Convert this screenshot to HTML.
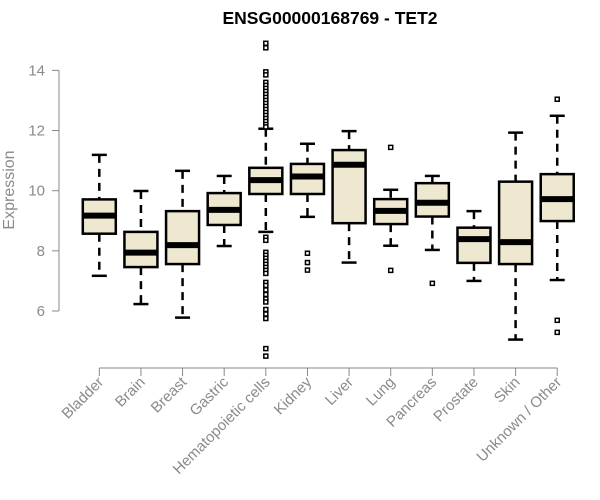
<!DOCTYPE html>
<html><head><meta charset="utf-8"><style>
body{margin:0;background:#fff;}
svg{display:block;font-family:"Liberation Sans",Arial,sans-serif;}
</style></head><body>
<svg id="chart" width="600" height="500">
<text x="330" y="24" text-anchor="middle" font-weight="bold" font-size="17.5">ENSG00000168769 - TET2</text>
<text transform="translate(14,190) rotate(-90)" text-anchor="middle" font-size="16" fill="#8a8a8a">Expression</text>
<g id="plot"></g>
</svg>
<script>
const categories=["Bladder","Brain","Breast","Gastric","Hematopoietic cells","Kidney","Liver","Lung","Pancreas","Prostate","Skin","Unknown / Other"];
const whiskerLow=[7.17,6.23,5.78,8.16,8.63,9.13,7.61,8.17,8.03,7.0,5.05,7.03];
const q1=[8.57,7.46,7.56,8.86,9.89,9.89,8.92,8.89,9.14,7.6,7.56,8.99];
const medians=[9.17,7.94,8.19,9.36,10.35,10.47,10.86,9.33,9.6,8.39,8.29,9.72];
const q3=[9.71,8.63,9.32,9.92,10.76,10.89,11.35,9.72,10.25,8.77,10.3,10.55];
const whiskerHigh=[11.19,9.99,10.66,10.49,12.06,11.56,11.98,10.03,10.49,9.32,11.93,12.49];
const outliers=[[],[],[],[],
 [14.9,14.75,13.95,13.85,13.6,13.5,13.4,13.3,13.2,13.1,13.0,12.9,12.8,12.7,12.6,12.5,12.4,12.3,12.2,12.12,8.45,8.35,7.95,7.85,7.75,7.65,7.55,7.45,7.35,7.25,6.95,6.85,6.7,6.55,6.4,6.3,6.05,5.9,5.75,4.75,4.5],
 [7.92,7.61,7.36],[],[11.44,7.35],[6.92],[],[],[13.04,5.69,5.29]];
const yTicks=[6,8,10,12,14];
const y=v=>311-(v-6)*30.08;
const x=i=>99.3+i*41.63;
const g=document.getElementById('plot');
const NS='http://www.w3.org/2000/svg';
function mk(t,a){const e=document.createElementNS(NS,t);for(const k in a)e.setAttribute(k,a[k]);g.appendChild(e);return e;}
let ax=mk('line',{x1:59,x2:59,y1:y(14),y2:y(6),stroke:'#888','stroke-width':1});


yTicks.forEach(t=>{
 const l=mk('line',{x1:52,x2:59,y1:y(t),y2:y(t),stroke:'#888'});
 
 
 const tx=mk('text',{x:45,y:y(t)+5,'text-anchor':'end','font-size':15,fill:'#8a8a8a'});
 tx.textContent=t;
 
 
});
let xa=mk('line',{x1:x(0),x2:x(11),y1:368,y2:368,stroke:'#888'});


categories.forEach((c,i)=>{
 const cx=x(i);
 const t=mk('line',{x1:cx,x2:cx,y1:368,y2:376,stroke:'#888'});
 
 
 const lb=mk('text',{transform:`translate(${cx+5},383) rotate(-45)`,'text-anchor':'end','font-size':15,fill:'#8a8a8a'});
 lb.textContent=c;
 
 
 const w1=mk('line',{x1:cx,x2:cx,y1:y(whiskerHigh[i]),y2:y(q3[i]),stroke:'#000','stroke-width':2.5,'stroke-dasharray':'8,6'});
 
 
 const w2=mk('line',{x1:cx,x2:cx,y1:y(q1[i]),y2:y(whiskerLow[i]),stroke:'#000','stroke-width':2.5,'stroke-dasharray':'8,6'});
 
 
 [whiskerHigh[i],whiskerLow[i]].forEach(v=>{
  const cp=mk('line',{x1:cx-7.5,x2:cx+7.5,y1:y(v),y2:y(v),stroke:'#000','stroke-width':2.5});
  
  
 });
 const b=mk('rect',{x:cx-16.5,y:y(q3[i]),width:33,height:y(q1[i])-y(q3[i]),fill:'#ede8cf',stroke:'#000','stroke-width':2.5});
 
 
 const m=mk('line',{x1:cx-16.5,x2:cx+16.5,y1:y(medians[i]),y2:y(medians[i]),stroke:'#000','stroke-width':6});
 
 
 outliers[i].forEach(v=>{
  const o=mk('rect',{x:cx-2,y:y(v)-2,width:4,height:4,fill:'#fff',stroke:'#000','stroke-width':1.5});
  
  
 });
});
</script>
</body></html>
